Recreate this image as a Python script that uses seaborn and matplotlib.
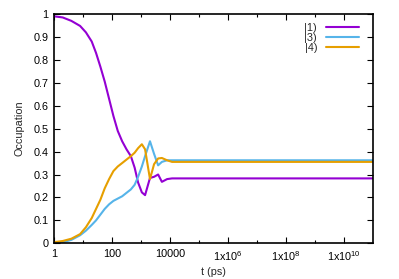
import numpy as np
import pandas as pd
import matplotlib
matplotlib.use("Agg")
import matplotlib.pyplot as plt
import matplotlib.ticker as mticker
import seaborn as sns

# time points (ps)
t_ps = [1, 2, 3.98, 7.94, 12.6, 20, 28.2, 39.8, 56.2, 79.4, 112, 158, 224,
        316, 447, 603, 794, 1070, 1380, 2040, 2820, 3890, 5250, 7940,
        11750, 1e5, 1e11]

occ_1 = [0.99, 0.985, 0.97, 0.948, 0.92, 0.88, 0.83, 0.77, 0.705,
         0.63, 0.555, 0.49, 0.445, 0.41, 0.38, 0.33, 0.265, 0.222, 0.21,
         0.285, 0.29, 0.30, 0.268, 0.28, 0.283, 0.283, 0.283]
occ_3 = [0.0, 0.004, 0.015, 0.035, 0.055, 0.08, 0.10, 0.125, 0.15, 0.17,
         0.185, 0.195, 0.205, 0.22, 0.235, 0.255, 0.29, 0.335, 0.38, 0.445,
         0.39, 0.34, 0.355, 0.362, 0.362, 0.362, 0.362]
occ_4 = [0.005, 0.01, 0.02, 0.04, 0.07, 0.11, 0.15, 0.19, 0.24, 0.28,
         0.315, 0.335, 0.35, 0.365, 0.38, 0.395, 0.415, 0.432, 0.41, 0.28,
         0.345, 0.37, 0.372, 0.362, 0.355, 0.355, 0.355]

states = ["|1)", "|3)", "|4)"]
colors = ["#9400d3", "#56b4e9", "#e69f00"]

df = pd.concat([
    pd.DataFrame({"t": t_ps, "occ": v, "state": s})
    for s, v in zip(states, [occ_1, occ_3, occ_4])
])

sns.set_style("ticks")
plt.rcParams["font.family"] = ["Liberation Sans", "DejaVu Sans"]
plt.rcParams["mathtext.fontset"] = "custom"
plt.rcParams["mathtext.rm"] = "Liberation Sans"
fs = 7.8
plt.rcParams["font.size"] = fs

fig = plt.figure(figsize=(3.99, 2.79), dpi=100)
ax = fig.add_axes([0.1353, 0.128, 0.7997, 0.8218])

sns.lineplot(data=df, x="t", y="occ", hue="state", palette=colors,
             hue_order=states, sort=False, estimator=None, lw=1.5, ax=ax)
for ln in ax.get_lines():
    ln.set_solid_joinstyle("round")

ax.set_xscale("log")
ax.set_xlim(1, 1e11)
ax.set_ylim(0, 1)

xt = [1, 1e2, 1e4, 1e6, 1e8, 1e10]
xl = ["1", "100", "10000", r"1x10$^{6}$", r"1x10$^{8}$", r"1x10$^{10}$"]
ax.set_xticks(xt)
ax.set_xticklabels(xl)
ax.xaxis.set_minor_locator(mticker.FixedLocator([1e1, 1e3, 1e5, 1e7, 1e9]))
ax.xaxis.set_minor_formatter(mticker.NullFormatter())
yt = [0, 0.1, 0.2, 0.3, 0.4, 0.5, 0.6, 0.7, 0.8, 0.9, 1]
ax.set_yticks(yt)
ax.set_yticklabels(["0", "0.1", "0.2", "0.3", "0.4", "0.5", "0.6", "0.7", "0.8", "0.9", "1"])

ax.tick_params(which="both", direction="in", top=True, right=True,
               labelsize=fs, colors="black", width=0.8, pad=4)
ax.tick_params(which="major", length=4.5)
ax.tick_params(which="minor", length=2.5)
for sp in ax.spines.values():
    sp.set_linewidth(1.2)
    sp.set_color("black")

ax.set_xlabel("t (ps)", fontsize=fs, labelpad=3)
ax.set_ylabel("Occupation", fontsize=fs, labelpad=6)

leg = ax.legend(loc="upper right", bbox_to_anchor=(0.984, 1.0),
                frameon=False, markerfirst=False,
                handlelength=3.1, labelspacing=0.0, borderaxespad=0.4,
                handletextpad=0.8, fontsize=fs)

fig.savefig("out.png", dpi=100)
